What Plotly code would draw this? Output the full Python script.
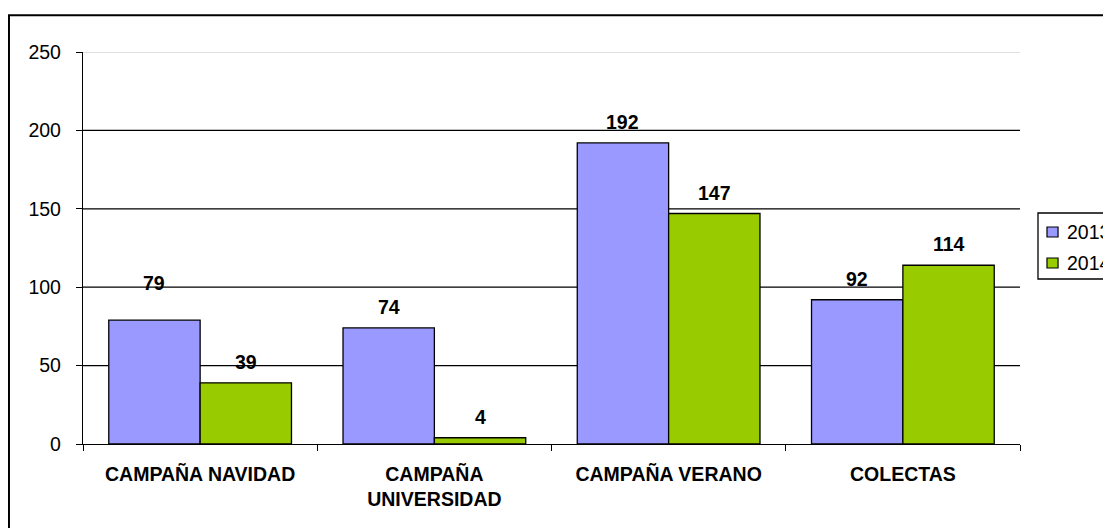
import plotly.graph_objects as go

categories = ["CAMPAÑA NAVIDAD", "CAMPAÑA<br>UNIVERSIDAD", "CAMPAÑA VERANO", "COLECTAS"]
values_2013 = [79, 74, 192, 92]
values_2014 = [39, 4, 147, 114]
y_ticks = [0, 50, 100, 150, 200, 250]
series_names = ["2013", "2014"]
series_colors = ["#9999FF", "#99CC00"]

FONT = "Liberation Sans, Arial, sans-serif"
FS = 19.5

fig = go.Figure()
for name, vals, col in zip(series_names, [values_2013, values_2014], series_colors):
    fig.add_trace(go.Bar(x=categories, y=vals, name=name, showlegend=False,
                         marker=dict(color=col, line=dict(color="black", width=1.3))))

# value labels above bars (Excel puts them higher than plotly's "outside")
for xi, (a, b) in enumerate(zip(values_2013, values_2014)):
    for v, shift in ((a, -0.195), (b, 0.195)):
        extra = 16 if v == 79 else 0
        fig.add_annotation(x=xi + shift, y=v, text=f"<b>{v}</b>", showarrow=False,
                           yshift=21 + extra, font=dict(size=FS, color="black", family=FONT))

# gridlines: black, except the top one which is light grey
for t in y_ticks[1:]:
    fig.add_shape(type="line", xref="paper", x0=0, x1=1, yref="y", y0=t, y1=t,
                  line=dict(color="#C0C0C0" if t == y_ticks[-1] else "black", width=1.2),
                  layer="below")

# outer chart-area frame (runs off the right/bottom edge like the original)
fig.add_shape(type="rect", xref="paper", yref="paper", x0=-0.079, x1=1.3, y0=-0.5, y1=1.094,
              line=dict(color="black", width=2))

# hand-made legend box so it can hang off the right edge without pushing the plot
fig.add_shape(type="rect", xref="paper", yref="paper", x0=1.0192, x1=1.3, y0=0.4209, y1=0.5893,
              line=dict(color="black", width=1.3), fillcolor="white")
sw_y = [(0.5281, 0.5536), (0.4490, 0.4745)]
txt_y = [0.5408, 0.4617]
for name, col, (y0, y1), ty in zip(series_names, series_colors, sw_y, txt_y):
    fig.add_shape(type="rect", xref="paper", yref="paper", x0=1.0288, x1=1.0406, y0=y0, y1=y1,
                  line=dict(color="black", width=1.2), fillcolor=col)
    fig.add_annotation(xref="paper", yref="paper", x=1.0480, y=ty, text=name, showarrow=False,
                       xanchor="left", yanchor="middle", font=dict(size=FS, family=FONT))

fig.update_layout(
    width=1103, height=520,
    margin=dict(l=75, r=91, t=44, b=84),
    paper_bgcolor="white", plot_bgcolor="white",
    barmode="group", bargap=0.22, bargroupgap=0,
    font=dict(family=FONT, size=FS, color="black"),
    showlegend=False,
)
fig.update_xaxes(type="category", showline=True, linecolor="black", linewidth=1.3,
                 ticks="outside", ticklen=6, tickcolor="black", tickson="boundaries",
                 tickvals=categories, ticktext=[f"<b>{c}</b>" for c in categories],
                 tickfont=dict(size=FS, family=FONT), ticklabelstandoff=12,
                 showgrid=False, zeroline=False)
fig.update_yaxes(range=[0, 250], tickvals=y_ticks, showline=True, linecolor="black",
                 linewidth=1.3, ticks="outside", ticklen=6, tickcolor="black",
                 showgrid=False, zeroline=False, ticklabelstandoff=11,
                 tickfont=dict(size=FS, family=FONT))

fig.write_html("out.html")
